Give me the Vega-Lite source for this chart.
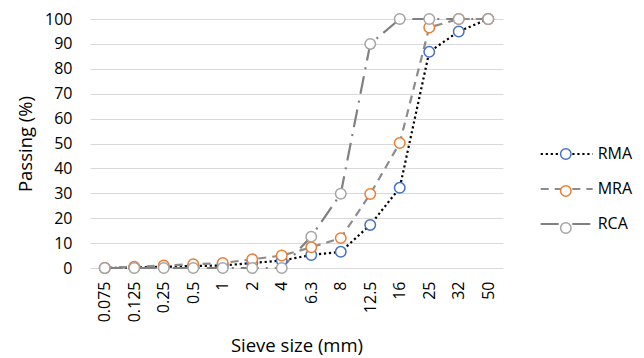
{
  "$schema": "https://vega.github.io/schema/vega-lite/v6.json",
  "width": 413,
  "height": 249,
  "autosize": {"type": "none"},
  "padding": {"left": 90, "top": 19, "right": 141, "bottom": 90},
  "config": {
    "view": {"stroke": null},
    "font": "Open Sans",
    "axis": {"labelFont": "Open Sans", "titleFont": "Open Sans", "labelColor": "#000000", "titleColor": "#000000", "titleFontWeight": "normal"},
    "legend": {"labelFont": "Open Sans", "labelColor": "#000000"}
  },
  "data": {
    "values": [
      {"size": "0.075", "series": "RMA", "value": 0},
      {"size": "0.125", "series": "RMA", "value": 0.2},
      {"size": "0.25", "series": "RMA", "value": 0.5},
      {"size": "0.5", "series": "RMA", "value": 0.8},
      {"size": "1", "series": "RMA", "value": 1},
      {"size": "2", "series": "RMA", "value": 2},
      {"size": "4", "series": "RMA", "value": 3},
      {"size": "6.3", "series": "RMA", "value": 5.2},
      {"size": "8", "series": "RMA", "value": 6.5},
      {"size": "12.5", "series": "RMA", "value": 17.3},
      {"size": "16", "series": "RMA", "value": 32.2},
      {"size": "25", "series": "RMA", "value": 86.8},
      {"size": "32", "series": "RMA", "value": 95},
      {"size": "50", "series": "RMA", "value": 100},
      {"size": "0.075", "series": "MRA", "value": 0},
      {"size": "0.125", "series": "MRA", "value": 0.5},
      {"size": "0.25", "series": "MRA", "value": 1},
      {"size": "0.5", "series": "MRA", "value": 1.5},
      {"size": "1", "series": "MRA", "value": 2},
      {"size": "2", "series": "MRA", "value": 3.5},
      {"size": "4", "series": "MRA", "value": 5},
      {"size": "6.3", "series": "MRA", "value": 8.3},
      {"size": "8", "series": "MRA", "value": 12},
      {"size": "12.5", "series": "MRA", "value": 29.7},
      {"size": "16", "series": "MRA", "value": 50.2},
      {"size": "25", "series": "MRA", "value": 96.6},
      {"size": "32", "series": "MRA", "value": 100},
      {"size": "50", "series": "MRA", "value": 100},
      {"size": "0.075", "series": "RCA", "value": 0},
      {"size": "0.125", "series": "RCA", "value": 0},
      {"size": "0.25", "series": "RCA", "value": 0},
      {"size": "0.5", "series": "RCA", "value": 0},
      {"size": "1", "series": "RCA", "value": 0},
      {"size": "2", "series": "RCA", "value": 0},
      {"size": "4", "series": "RCA", "value": 0},
      {"size": "6.3", "series": "RCA", "value": 12.6},
      {"size": "8", "series": "RCA", "value": 29.8},
      {"size": "12.5", "series": "RCA", "value": 90},
      {"size": "16", "series": "RCA", "value": 100},
      {"size": "25", "series": "RCA", "value": 100},
      {"size": "32", "series": "RCA", "value": 100},
      {"size": "50", "series": "RCA", "value": 100}
    ]
  },
  "encoding": {
    "x": {
      "field": "size", "type": "ordinal",
      "scale": {"type": "point", "padding": 0.5, "domain": ["0.075","0.125","0.25","0.5","1","2","4","6.3","8","12.5","16","25","32","50"]},
      "axis": {"title": "Sieve size (mm)", "labelAngle": -90, "labelFontSize": 16, "ticks": false, "domain": false, "grid": false, "labelPadding": 13, "titleFontSize": 18.5, "titleY": 77, "titleBaseline": "middle"}
    },
    "y": {
      "field": "value", "type": "quantitative",
      "scale": {"domain": [0, 100], "nice": false},
      "axis": {"title": "Passing (%)", "values": [0,10,20,30,40,50,60,70,80,90,100], "labelFontSize": 16, "ticks": false, "domain": false, "grid": true, "gridColor": "#d9d9d9", "gridWidth": 1, "labelPadding": 18, "titleFontSize": 18.5, "titleX": -65, "titleY": 124.5, "titleBaseline": "middle", "titleAlign": "center", "titleAngle": -90}
    }
  },
  "layer": [
    {
      "mark": {"type": "line", "strokeWidth": 2.2},
      "encoding": {
        "stroke": {
          "field": "series", "type": "nominal",
          "scale": {"domain": ["RMA", "MRA", "RCA"], "range": ["#000000", "#8c8c8c", "#808080"]},
          "legend": {"title": null, "orient": "none", "legendX": 468.7, "legendY": 127, "rowPadding": 19, "symbolType": "M-6,0L-1.3,0M1.3,0L6,0", "symbolSize": 75, "symbolStrokeWidth": 2, "symbolFillColor": "transparent", "labelFontSize": 16, "labelOffset": 23, "zindex": 0,
            "encode": {"symbols": {"update": {"strokeDash": {"scale": "strokeDash", "field": "value"}}}}}
        },
        "strokeDash": {
          "field": "series", "type": "nominal",
          "scale": {"domain": ["RMA", "MRA", "RCA"], "range": [[2.2, 2.8], [8, 6], [18, 7, 2, 7]]},
          "legend": null
        }
      }
    },
    {
      "mark": {"type": "point", "filled": false, "fill": "white", "size": 110, "strokeWidth": 1.5, "opacity": 1},
      "encoding": {
        "color": {
          "field": "series", "type": "nominal", "sort": ["RMA", "MRA", "RCA"],
          "scale": {"range": ["#4472C4", "#ED7D31", "#A5A5A5"]},
          "legend": {"title": null, "orient": "none", "legendX": 467.8, "legendY": 127, "rowPadding": 19, "symbolType": "circle", "symbolSize": 110, "symbolStrokeWidth": 1.5, "labelFontSize": 16, "labelExpr": "''", "zindex": 1, "encode": {"symbols": {"update": {"fill": {"value": "white"}}}}}
        }
      }
    }
  ]
}
